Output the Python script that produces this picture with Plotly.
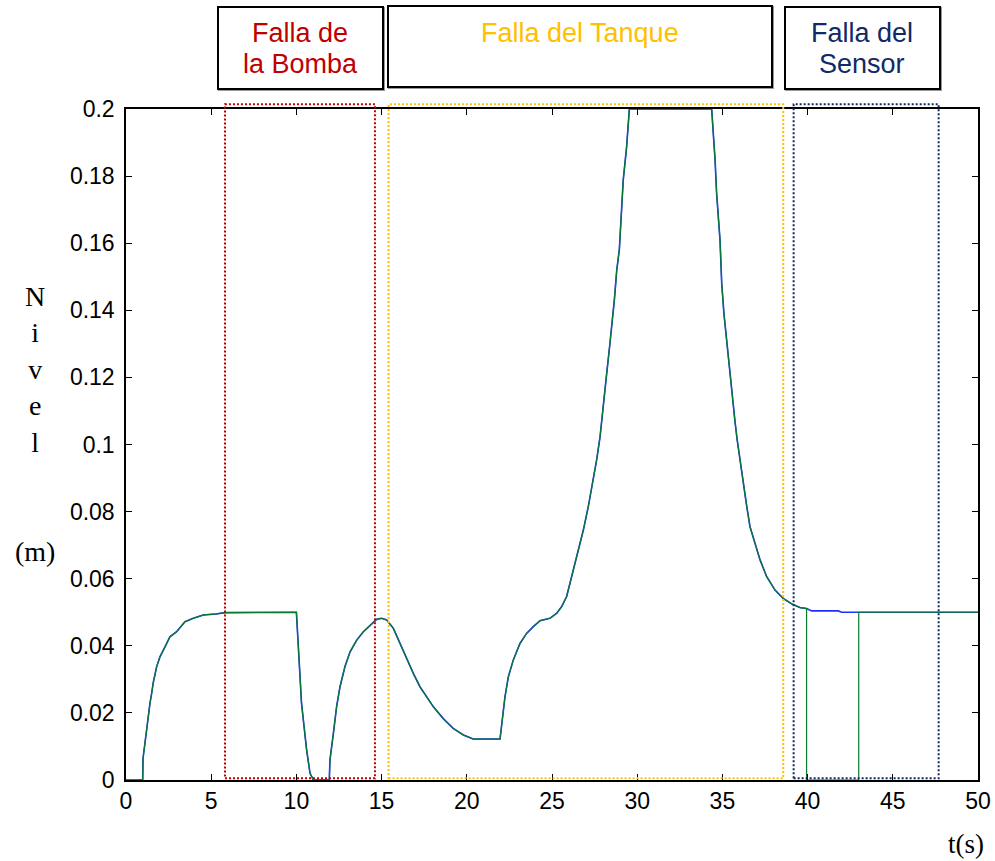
import plotly.graph_objects as go

# ---------------- data ----------------
t_level = [0, 0.98, 1.0, 1.15, 1.27, 1.41, 1.51, 1.6, 1.8, 2.0, 2.29, 2.58, 2.97, 3.46,
           3.95, 4.54, 5.3, 5.8, 10.0, 10.1, 10.2, 10.3, 10.45, 10.6, 10.8, 11.0, 11.93,
           11.97, 12.17, 12.36, 12.56, 12.85, 13.15, 13.54, 13.93, 14.32, 14.71, 15.0,
           15.3, 15.69, 16.08, 16.47, 16.86, 17.25, 17.65, 18.04, 18.62, 19.2, 19.8,
           20.38, 21.95, 22.05, 22.24, 22.44, 22.73, 23.12, 23.51, 23.9, 24.3, 24.88,
           25.28, 25.57, 25.86, 26.25, 26.55, 26.84, 27.13, 27.42, 27.62, 27.82, 28.01,
           28.21, 28.4, 28.54, 28.66, 28.8, 28.95, 29.18, 29.38, 29.54, 34.37, 34.57,
           34.66, 34.86, 34.96, 35.09, 35.25, 35.4, 35.54, 35.74, 35.87, 36.03, 36.23,
           36.43, 36.62, 36.91, 37.21, 37.6, 38.09, 38.57, 39.07, 39.55, 39.94]
level = [0, 0, 0.0065, 0.0129, 0.0179, 0.023, 0.026, 0.029, 0.0338, 0.0368, 0.0397,
         0.0427, 0.0442, 0.0472, 0.0482, 0.0492, 0.0495, 0.0499, 0.05, 0.040, 0.0308,
         0.0229, 0.0159, 0.009, 0.002, 0, 0, 0.006, 0.0139, 0.0219, 0.0278, 0.0338,
         0.0382, 0.0417, 0.0442, 0.0462, 0.0479, 0.0482, 0.0477, 0.0452, 0.0407, 0.0362,
         0.0318, 0.0278, 0.0248, 0.0218, 0.0183, 0.0154, 0.0134, 0.0122, 0.0122, 0.0169,
         0.0248, 0.0308, 0.0358, 0.0407, 0.0437, 0.0457, 0.0475, 0.0482, 0.0497, 0.0517,
         0.0547, 0.0626, 0.0686, 0.0745, 0.0815, 0.0894, 0.0954, 0.1023, 0.1123, 0.1212,
         0.1301, 0.1361, 0.1431, 0.152, 0.158, 0.1788, 0.1888, 0.2, 0.2, 0.1848, 0.1749,
         0.161, 0.148, 0.139, 0.1311, 0.1242, 0.1152, 0.1068, 0.1013, 0.0954, 0.0884,
         0.0815, 0.0755, 0.0705, 0.0656, 0.0606, 0.0566, 0.0541, 0.0525, 0.0514, 0.0511]

# sensor-fault segment: estimated level (blue) and measured level (green)
t_est_tail = [40.24, 41.8, 42.0, 50]
est_tail = [0.0504, 0.0504, 0.05, 0.05]
t_meas_tail = [39.94, 43.0, 43.0, 50]
meas_tail = [0, 0, 0.05, 0.05]

# fault windows
fault_lines = [["Falla de", "la Bomba"], ["Falla del Tanque"], ["Falla del", "Sensor"]]
fault_colors = ["#c00000", "#ffc000", "#0f2a66"]
fault_start = [5.81, 15.41, 39.18]
fault_end = [14.61, 38.57, 47.69]
fault_low = 0.0005
fault_high = 0.2014

x_range = [0, 50]
y_range = [0, 0.2]
x_ticks = [0, 5, 10, 15, 20, 25, 30, 35, 40, 45, 50]
y_ticks = [0, 0.02, 0.04, 0.06, 0.08, 0.1, 0.12, 0.14, 0.16, 0.18, 0.2]
y_ticktext = ["0", "0.02", "0.04", "0.06", "0.08", "0.1", "0.12", "0.14", "0.16", "0.18", "0.2"]

# ---------------- layout helpers ----------------
W, H = 995, 861
L, R, T, B = 126, 17, 109, 81
PW, PH = W - L - R, H - T - B


def px(x):
    return (x - L) / PW


def py(y):
    return (H - B - y) / PH


def yp(v):
    return (v - y_range[0]) / (y_range[1] - y_range[0])


fig = go.Figure()

fig.add_trace(go.Scatter(x=t_level + t_est_tail, y=level + est_tail, mode="lines",
                         line=dict(color="#2030ff", width=1.6), showlegend=False))
fig.add_trace(go.Scatter(x=t_level + t_meas_tail, y=level + meas_tail, mode="lines",
                         line=dict(color="#087a2e", width=1.2), showlegend=False))

shapes = []
for s, e, c in zip(fault_start, fault_end, fault_colors):
    shapes.append(dict(type="rect", xref="x", yref="paper", x0=s, x1=e,
                       y0=yp(fault_low), y1=yp(fault_high),
                       line=dict(color=c, width=2, dash="2px,2px"), layer="above"))

# label boxes above the plot
label_boxes = [(218, 383, 7, 89), (388, 772, 6, 87), (785, 940, 7, 89)]
for (x0, x1, y0, y1) in label_boxes:
    shapes.append(dict(type="rect", xref="paper", yref="paper",
                       x0=px(x0 + 1), x1=px(x1 + 1), y0=py(y0 + 1), y1=py(y1 + 1),
                       line=dict(color="#9a9a9a", width=2)))
    shapes.append(dict(type="rect", xref="paper", yref="paper",
                       x0=px(x0), x1=px(x1), y0=py(y0), y1=py(y1),
                       line=dict(color="black", width=2), fillcolor="white"))

annotations = []
label_x = [300, 580, 862]
line_y = [33, 64]
for lines, c, x in zip(fault_lines, fault_colors, label_x):
    for k, txt in enumerate(lines):
        annotations.append(dict(text=txt, xref="paper", yref="paper", x=px(x),
                                y=py(line_y[k]), xanchor="center", yanchor="middle",
                                showarrow=False,
                                font=dict(family="Arial, Liberation Sans", size=27,
                                          color=c)))

annotations.append(dict(text="N<br>i<br>v<br>e<br>l<br> <br> <br>(m)", xref="paper",
                        yref="paper", x=px(35), y=py(424), xanchor="center",
                        yanchor="middle", showarrow=False, align="center",
                        font=dict(family="Liberation Serif, Times New Roman", size=28,
                                  color="black")))
annotations.append(dict(text="t(s)", xref="paper", yref="paper", x=px(966), y=py(844),
                        xanchor="center", yanchor="middle", showarrow=False,
                        font=dict(family="Liberation Serif, Times New Roman", size=27,
                                  color="black")))

axis_common = dict(showline=True, linecolor="black", linewidth=1.5, mirror="ticks",
                   ticks="inside", ticklen=6, tickwidth=1, tickcolor="black",
                   showgrid=False, zeroline=False,
                   tickfont=dict(family="Arial, Liberation Sans", size=23, color="black"))

fig.update_layout(
    width=W, height=H,
    margin=dict(l=L, r=R, t=T, b=B, autoexpand=False),
    paper_bgcolor="white", plot_bgcolor="white",
    xaxis=dict(range=x_range, tickvals=x_ticks, **axis_common),
    yaxis=dict(range=y_range, tickvals=y_ticks, ticktext=y_ticktext,
               ticklabelstandoff=5, **axis_common),
    shapes=shapes, annotations=annotations, showlegend=False,
)

fig.write_html("out.html")
